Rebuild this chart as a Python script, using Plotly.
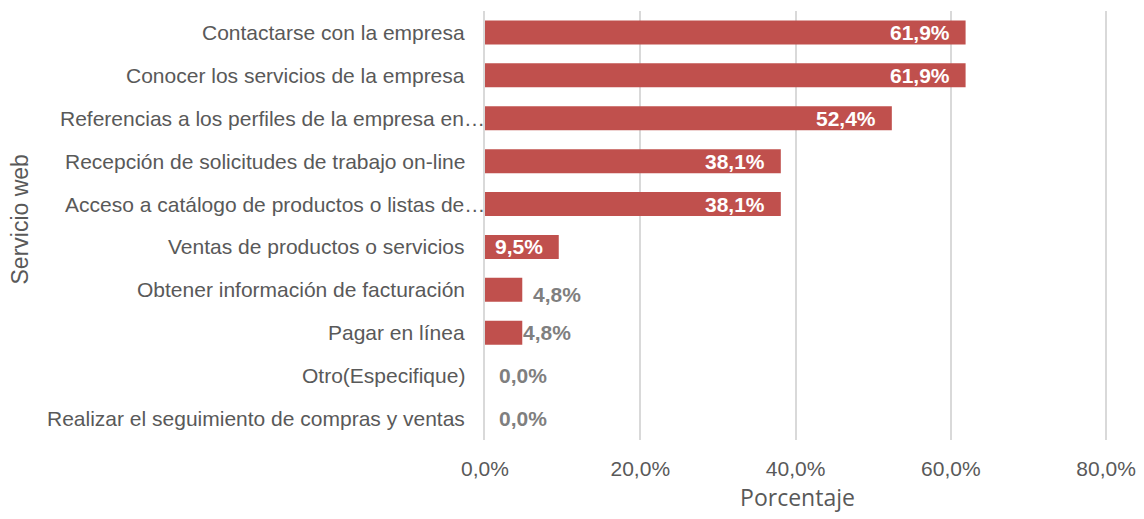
import plotly.graph_objects as go

categories = [
    "Contactarse con la empresa",
    "Conocer los servicios de la empresa",
    "Referencias a los perfiles de la empresa en…",
    "Recepción de solicitudes de trabajo on-line",
    "Acceso a catálogo de productos o listas de…",
    "Ventas de productos o servicios",
    "Obtener información de facturación",
    "Pagar en línea",
    "Otro(Especifique)",
    "Realizar el seguimiento de compras y ventas",
]
values = [61.9, 61.9, 52.4, 38.1, 38.1, 9.5, 4.8, 4.8, 0.0, 0.0]
label_texts = ["61,9%", "61,9%", "52,4%", "38,1%", "38,1%", "9,5%", "4,8%", "4,8%", "0,0%", "0,0%"]
x_tickvals = [0, 20, 40, 60, 80]
x_ticktext = ["0,0%", "20,0%", "40,0%", "60,0%", "80,0%"]

BAR = "#C0504D"
GRAY = "#595959"
FONT = "Liberation Sans, Arial"

fig = go.Figure()
fig.add_trace(go.Bar(
    y=categories, x=values, orientation="h",
    marker=dict(color=BAR, line=dict(width=0)),
    width=0.56, hoverinfo="skip",
))

annotations = []
for i, (c, v, t) in enumerate(zip(categories, values, label_texts)):
    if v >= 9:
        annotations.append(dict(x=v, y=c, xref="x", yref="y", text=f"<b>{t}</b>",
                                showarrow=False, xanchor="right", xshift=-14,
                                font=dict(color="white", size=21, family=FONT)))
    else:
        if i == 6:
            xs, ys = 9, -5
        elif i == 7:
            xs, ys = -1, 0
        else:
            xs, ys = 12, 0
        annotations.append(dict(x=v, y=c, xref="x", yref="y", text=f"<b>{t}</b>",
                                showarrow=False, xanchor="left", xshift=xs, yshift=ys,
                                font=dict(color="#7F7F7F", size=21, family=FONT)))

# category labels (truncated ones run up to the axis, like the original)
for c in categories:
    xs = 2 if c.endswith("…") else -18
    annotations.append(dict(x=0, y=c, xref="paper", yref="y", text=c,
                            showarrow=False, xanchor="right", xshift=xs,
                            font=dict(color=GRAY, size=21, family=FONT)))

annotations.append(dict(x=-0.7456, y=0.5, xref="paper", yref="paper", text="Servicio web",
                        textangle=-90, showarrow=False, xanchor="center", yanchor="middle",
                        yshift=6,
                        font=dict(color=GRAY, size=23, family=FONT)))

fig.update_layout(
    width=1136, height=511,
    margin=dict(l=477, r=34, t=3, b=79),
    paper_bgcolor="white", plot_bgcolor="white",
    showlegend=False,
    annotations=annotations,
    xaxis=dict(
        range=[0, 80.5], tickvals=x_tickvals, ticktext=x_ticktext,
        showgrid=True, gridcolor="#D9D9D9", gridwidth=1.5,
        zeroline=False, showline=False, automargin=False,
        tickfont=dict(color=GRAY, size=21, family=FONT),
        ticklabelstandoff=14,
        title=dict(text="Porcentaje", font=dict(color=GRAY, size=23, family="Open Sans"), standoff=10),
        fixedrange=True,
    ),
    yaxis=dict(
        autorange="reversed", showgrid=False, zeroline=False,
        showline=True, linecolor="#D9D9D9", linewidth=2, automargin=False,
        showticklabels=False,
        fixedrange=True,
    ),
)

fig.write_html("out.html")
